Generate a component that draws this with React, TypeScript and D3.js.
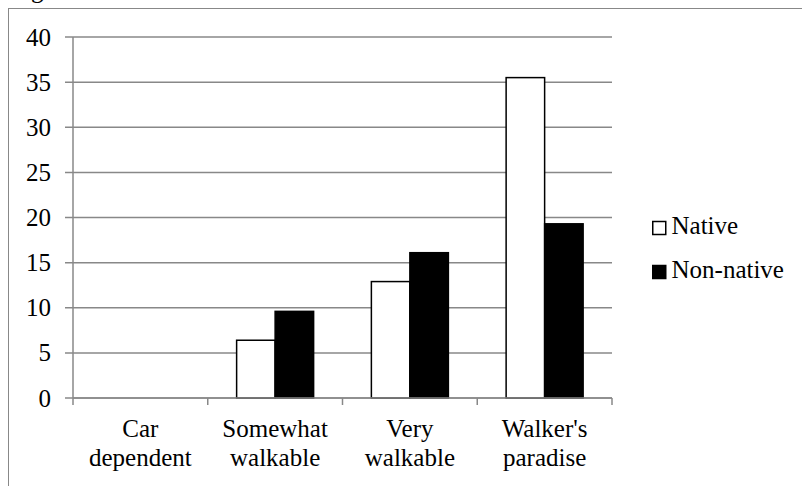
import { useRef, useEffect } from 'react'
import * as d3 from 'd3'

const CATEGORIES = ['Car\ndependent', 'Somewhat\nwalkable', 'Very\nwalkable', "Walker's\nparadise"]
const SERIES = ['Native', 'Non-native']
const NATIVE = [0, 6.4, 12.9, 35.5]
const NON_NATIVE = [0, 9.6, 16.1, 19.3]
const Y_TICKS = [0, 5, 10, 15, 20, 25, 30, 35, 40]

const FILLS: Record<string, string> = { Native: '#ffffff', 'Non-native': '#000000' }
const GRID = '#888888'
const FONT = "'Liberation Serif', Tinos, 'Nimbus Roman', 'Nimbus Roman No9 L', 'Noto Serif', FreeSerif, 'DejaVu Serif', Times, serif"

export default function App() {
  const svgRef = useRef<SVGSVGElement>(null)

  useEffect(() => {
    if (!svgRef.current) return
    const svg = d3.select(svgRef.current)
    svg.selectAll('*').remove()

    const W = 802
    const H = 486
    svg.attr('width', W).attr('height', H)
      .style('font-family', FONT).style('font-size', '25px')

    // outer chart frame, cut off at right and bottom
    svg.append('rect')
      .attr('x', 8.5).attr('y', 8.5)
      .attr('width', W + 20).attr('height', H + 20)
      .attr('fill', '#fff').attr('stroke', GRID).attr('stroke-width', 1)

    // fragment of caption above the frame
    svg.append('text')
      .attr('x', 31).attr('y', -2.5)
      .text('g')

    const left = 73
    const right = 612
    const top = 37
    const bottom = 398

    const x = d3.scaleBand<string>().domain(CATEGORIES).range([left, right])
    const y = d3.scaleLinear().domain([0, 40]).range([bottom, top])
    const barW = x.bandwidth() / 3.5
    const inner = d3.scaleBand<string>().domain(SERIES).range([0, barW * 2])

    const g = svg.append('g')

    // gridlines + y ticks
    g.selectAll('line.grid')
      .data(Y_TICKS)
      .join('line')
      .attr('class', 'grid')
      .attr('x1', left - 8).attr('x2', right)
      .attr('y1', (d) => y(d)).attr('y2', (d) => y(d))
      .attr('stroke', GRID).attr('stroke-width', 1.5)

    g.selectAll('text.ylab')
      .data(Y_TICKS)
      .join('text')
      .attr('class', 'ylab')
      .attr('x', 51).attr('y', (d) => y(d))
      .attr('dy', '0.34em')
      .attr('text-anchor', 'end')
      .text((d) => String(d))

    // y axis line
    g.append('line')
      .attr('x1', left).attr('x2', left)
      .attr('y1', top).attr('y2', bottom)
      .attr('stroke', GRID).attr('stroke-width', 1.5)

    // x ticks
    const edges = [...CATEGORIES.map((c) => x(c) as number), right]
    g.selectAll('line.xtick')
      .data(edges)
      .join('line')
      .attr('class', 'xtick')
      .attr('x1', (d) => d).attr('x2', (d) => d)
      .attr('y1', bottom).attr('y2', bottom + 7)
      .attr('stroke', GRID).attr('stroke-width', 1.5)

    // bars
    const rows = CATEGORIES.flatMap((c, i) => [
      { cat: c, series: 'Native', value: NATIVE[i] },
      { cat: c, series: 'Non-native', value: NON_NATIVE[i] },
    ])
    const x0 = (c: string) => (x(c) as number) + (x.bandwidth() - barW * 2) / 2
    g.selectAll('rect.bar')
      .data(rows.filter((d) => d.value > 0))
      .join('rect')
      .attr('class', 'bar')
      .attr('x', (d) => x0(d.cat) + (inner(d.series) as number))
      .attr('y', (d) => y(d.value))
      .attr('width', inner.bandwidth())
      .attr('height', (d) => bottom - y(d.value))
      .attr('fill', (d) => FILLS[d.series])
      .attr('stroke', '#000').attr('stroke-width', 1.5)

    // x axis line (over bars)
    g.append('line')
      .attr('x1', left).attr('x2', right)
      .attr('y1', bottom).attr('y2', bottom)
      .attr('stroke', GRID).attr('stroke-width', 1.5)

    // category labels
    const lab = g.selectAll('text.xlab')
      .data(CATEGORIES)
      .join('text')
      .attr('class', 'xlab')
      .attr('text-anchor', 'middle')
    lab.selectAll('tspan')
      .data((d) => d.split('\n').map((t) => ({ t, c: d })))
      .join('tspan')
      .attr('x', (d) => (x(d.c) as number) + x.bandwidth() / 2)
      .attr('y', (_, i) => 437 + i * 29)
      .text((d) => d.t)

    // legend
    const leg = g.selectAll('g.leg')
      .data(SERIES)
      .join('g')
      .attr('class', 'leg')
      .attr('transform', (_, i) => `translate(652,${234 + i * 44})`)
    leg.append('rect')
      .attr('x', 0.75).attr('y', -12.5)
      .attr('width', 13).attr('height', 13)
      .attr('fill', (d) => FILLS[d])
      .attr('stroke', '#000').attr('stroke-width', 1.5)
    leg.append('text')
      .attr('x', 19.5).attr('y', 0)
      .text((d) => d)
  }, [])

  return (
    <div style={{ position: 'absolute', left: 0, top: 0, width: 802, height: 486, overflow: 'hidden', background: '#fff' }}>
      <svg ref={svgRef} style={{ display: 'block' }} />
    </div>
  )
}
